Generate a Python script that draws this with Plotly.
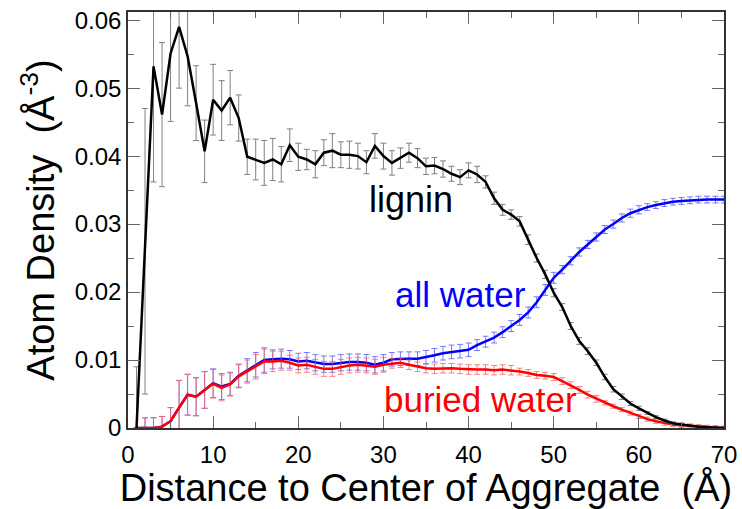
import plotly.graph_objects as go

x = list(range(1, 71))

lignin = [0.0, 0.026, 0.0532, 0.0461, 0.0551, 0.0590, 0.0547, 0.0478, 0.0407, 0.0483,
          0.0467, 0.0486, 0.0456, 0.0399, 0.0395, 0.0390, 0.0395, 0.0388, 0.0416, 0.0399,
          0.0395, 0.0388, 0.0405, 0.0408, 0.0402, 0.0402, 0.0400, 0.0391, 0.0415, 0.0400,
          0.0390, 0.0397, 0.0405, 0.0397, 0.0385, 0.0386, 0.0381, 0.0374, 0.0369, 0.0379,
          0.0373, 0.0362, 0.0338, 0.0321, 0.0314, 0.0304, 0.0277, 0.0250, 0.0226, 0.0199,
          0.0178, 0.0150, 0.0128, 0.0113, 0.0096, 0.0075, 0.0057, 0.0046, 0.0036, 0.0029,
          0.0022, 0.0016, 0.0011, 0.0007, 0.0005, 0.0003, 0.0002, 0.0001, 0.00005, 0.0]
lignin_err = [0.009, 0.021, 0.017, 0.0106, 0.010, 0.009, 0.0073, 0.0055, 0.0046, 0.0052,
              0.0044, 0.0040, 0.0034, 0.0026, 0.0030, 0.0033, 0.0031, 0.0026, 0.0024, 0.0020,
              0.0015, 0.0020, 0.0019, 0.0025, 0.0019, 0.0020, 0.0019, 0.0017, 0.0018, 0.0019,
              0.0018, 0.0015, 0.0014, 0.0014, 0.0012, 0.0012, 0.0012, 0.0011, 0.0011, 0.0011,
              0.0012, 0.0009, 0.0009, 0.0008, 0.0007, 0.0007, 0.0007, 0.0006, 0.0006, 0.0006,
              0.0005, 0.0005, 0.0005, 0.0005, 0.0004, 0.0004, 0.0004, 0.0004, 0.0003, 0.0003,
              0.0002, 0.0002, 0.0002, 0.0002, 0.0002, 0.0001, 0.0001, 0.0001, 0.0001, 0.0001]

all_water = [0.0, 0.0, 0.0, 0.0002, 0.0010, 0.0030, 0.0049, 0.0046, 0.0056, 0.0066,
             0.0061, 0.0065, 0.0077, 0.0085, 0.0093, 0.0100, 0.0101, 0.0102, 0.0101, 0.0098,
             0.0099, 0.0096, 0.0094, 0.0094, 0.0096, 0.0097, 0.0097, 0.0096, 0.0093, 0.0096,
             0.0101, 0.0102, 0.0102, 0.0102, 0.0104, 0.0107, 0.0110, 0.0112, 0.0113, 0.0115,
             0.0122, 0.0127, 0.0133, 0.0141, 0.0150, 0.0159, 0.0170, 0.0185, 0.0203, 0.0221,
             0.0233, 0.0246, 0.0259, 0.0270, 0.0281, 0.0292, 0.0300, 0.0309, 0.0316, 0.0321,
             0.0325, 0.0328, 0.0331, 0.0333, 0.0334, 0.0335, 0.0336, 0.0336, 0.0336, 0.0336]
all_water_err = [0.0, 0.0015, 0.0015, 0.0015, 0.0020, 0.0040, 0.0030, 0.0028, 0.0027, 0.0021,
                 0.0019, 0.0017, 0.0017, 0.0017, 0.0018, 0.0018, 0.0014, 0.0014, 0.0013, 0.0012,
                 0.0012, 0.0012, 0.0012, 0.0012, 0.0012, 0.0012, 0.0012, 0.0012, 0.0012, 0.0012,
                 0.0010, 0.0010, 0.0010, 0.0010, 0.0010, 0.0010, 0.0010, 0.0010, 0.0010, 0.0010,
                 0.0008, 0.0008, 0.0008, 0.0008, 0.0008, 0.0008, 0.0008, 0.0008, 0.0008, 0.0008,
                 0.0006, 0.0006, 0.0006, 0.0006, 0.0006, 0.0006, 0.0006, 0.0006, 0.0006, 0.0006,
                 0.0005, 0.0005, 0.0005, 0.0005, 0.0005, 0.0005, 0.0005, 0.0005, 0.0005, 0.0005]

buried_water = [0.0, 0.0, 0.0, 0.0002, 0.0010, 0.0030, 0.0049, 0.0046, 0.0056, 0.0065,
                0.0059, 0.0064, 0.0076, 0.0083, 0.0090, 0.0098, 0.0098, 0.0099, 0.0096, 0.0092,
                0.0093, 0.0090, 0.0087, 0.0087, 0.0090, 0.0092, 0.0093, 0.0092, 0.0090, 0.0093,
                0.0095, 0.0096, 0.0093, 0.0090, 0.0088, 0.0087, 0.0088, 0.0088, 0.0087, 0.0086,
                0.0086, 0.0086, 0.0085, 0.0086, 0.0085, 0.0083, 0.0081, 0.0078, 0.0077, 0.0075,
                0.0069, 0.0063, 0.0056, 0.0049, 0.0043, 0.0037, 0.0032, 0.0027, 0.0022, 0.0017,
                0.0013, 0.0010, 0.0007, 0.0005, 0.0004, 0.0003, 0.0002, 0.0001, 0.00005, 0.0]
buried_water_err = [0.0, 0.0015, 0.0015, 0.0015, 0.0020, 0.0040, 0.0030, 0.0028, 0.0027, 0.0021,
                    0.0019, 0.0017, 0.0017, 0.0017, 0.0018, 0.0018, 0.0015, 0.0014, 0.0011, 0.0011,
                    0.0011, 0.0011, 0.0011, 0.0011, 0.0011, 0.0011, 0.0011, 0.0011, 0.0011, 0.0011,
                    0.0007, 0.0007, 0.0007, 0.0007, 0.0007, 0.0007, 0.0007, 0.0007, 0.0007, 0.0007,
                    0.0007, 0.0007, 0.0007, 0.0007, 0.0007, 0.0005, 0.0005, 0.0005, 0.0005, 0.0005,
                    0.0005, 0.0005, 0.0005, 0.0005, 0.0005, 0.0003, 0.0003, 0.0003, 0.0003, 0.0003,
                    0.0003, 0.0003, 0.0003, 0.0003, 0.0003, 0.0003, 0.0003, 0.0003, 0.0003, 0.0003]

x_ticks = [0, 10, 20, 30, 40, 50, 60, 70]
y_ticks = [0, 0.01, 0.02, 0.03, 0.04, 0.05, 0.06]
y_tick_labels = ["0", "0.01", "0.02", "0.03", "0.04", "0.05", "0.06"]

FONT = "Liberation Sans"

fig = go.Figure()

def add_series(y, err, color, err_color):
    fig.add_trace(go.Scatter(
        x=x, y=y, mode="lines",
        line=dict(color=color, width=2.5),
        error_y=dict(type="data", array=err, visible=True,
                     color=err_color, thickness=1, width=3),
        showlegend=False, hoverinfo="skip"))

add_series(all_water, all_water_err, "#0000ff", "rgba(80,80,255,0.75)")
add_series(buried_water, buried_water_err, "#ff0000", "rgba(255,90,90,0.75)")
add_series(lignin, lignin_err, "#000000", "#808080")

axis_common = dict(
    showline=True, linecolor="#333333", linewidth=1.5, mirror="allticks",
    ticks="inside", ticklen=12, tickcolor="#666666", tickwidth=1.2,
    showgrid=False, zeroline=False, automargin=False,
    tickfont=dict(family=FONT, size=24, color="#000000"),
)

fig.update_xaxes(
    range=[0, 70], tickvals=x_ticks, ticklabelstandoff=4,
    minor=dict(ticks="inside", ticklen=6, dtick=5, tickcolor="#666666", tickwidth=1.2),
    title=dict(text="Distance to Center of Aggregate\u00a0 (Å)",
               font=dict(family=FONT, size=38, color="#000000"), standoff=8),
    **axis_common)
fig.update_yaxes(
    range=[0, 0.0612], tickvals=y_ticks, ticktext=y_tick_labels,
    minor=dict(ticks="inside", ticklen=6, dtick=0.005, tickcolor="#666666", tickwidth=1.2),
    title=dict(text="Atom Density\u00a0 (Å<sup>-3</sup>)",
               font=dict(family=FONT, size=38, color="#000000"), standoff=8),
    **axis_common)

fig.add_annotation(x=33.2, y=0.0336, text="lignin", showarrow=False,
                   font=dict(family=FONT, size=36, color="#000000"))
fig.add_annotation(x=39.0, y=0.0196, text="all water", showarrow=False,
                   font=dict(family=FONT, size=35, color="#0000ff"))
fig.add_annotation(x=41.4, y=0.0042, text="buried water", showarrow=False,
                   font=dict(family=FONT, size=35, color="#ff0000"))

fig.update_layout(
    width=742, height=509,
    margin=dict(l=128, r=18, t=12, b=81),
    paper_bgcolor="#ffffff", plot_bgcolor="#ffffff",
    font=dict(family=FONT),
)

fig.write_html("out.html")
